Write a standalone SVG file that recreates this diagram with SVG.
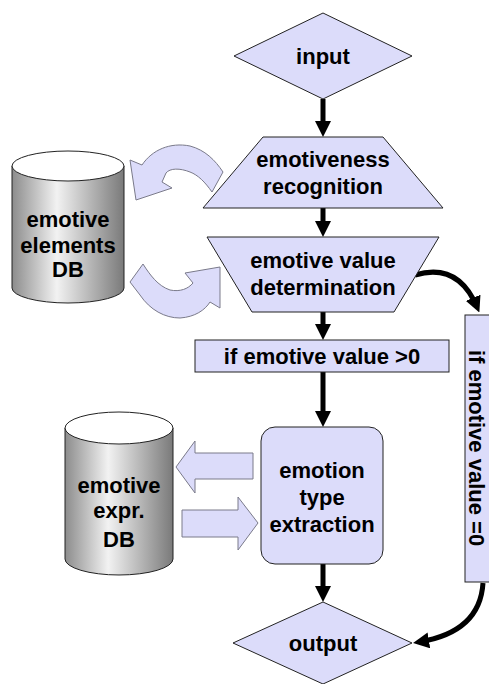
<svg xmlns="http://www.w3.org/2000/svg" width="489" height="684" viewBox="0 0 489 684">
<defs>
<linearGradient id="cyl" x1="0" y1="0" x2="1" y2="0">
<stop offset="0" stop-color="#8c8c8c"/>
<stop offset="0.4" stop-color="#f2f2f2"/>
<stop offset="1" stop-color="#7a7a7a"/>
</linearGradient>
<marker id="ah" markerUnits="userSpaceOnUse" markerWidth="16" markerHeight="16" refX="10" refY="8" orient="auto">
<path d="M0,0 L16,8 L0,16 z" fill="#000"/>
</marker>
<style>
.n{fill:#dcdcfa;stroke:#222;stroke-width:1}
.b{fill:#dcdcfa;stroke:#7a7a8a;stroke-width:1}
.t{font-family:"Liberation Sans",Arial,sans-serif;font-weight:bold;font-size:22px;fill:#000;text-anchor:middle}
.c{stroke:#000;stroke-width:5;fill:none;marker-end:url(#ah)}
.cy{fill:url(#cyl);stroke:#222;stroke-width:1}
.cyt{fill:#fff;stroke:#222;stroke-width:1}
</style>
</defs>
<rect width="489" height="684" fill="#fff"/>

<g id="connectors">
<line class="c" x1="323" y1="99" x2="323" y2="131"/>
<line class="c" x1="323" y1="208" x2="323" y2="231"/>
<line class="c" x1="323" y1="312" x2="323" y2="334"/>
<line class="c" x1="323" y1="372" x2="323" y2="421"/>
<line class="c" x1="323" y1="564" x2="323" y2="596"/>
<path class="c" d="M415,275 Q458,262 477,307"/>
<path class="c" d="M483,583 Q480,632 419,642"/>
</g>

<g id="block-arrows">
<path class="b" d="M130,160 L142,165 C152,150 170,142 190,146 C205,150 215,160 223,172 L212,192 C205,182 198,175 190,172 C180,168 170,168 166,173 L162,182 L172,188 L136,200 Z"/>
<path class="b" d="M130,282 L143,264 C150,275 158,286 170,290 C180,292 188,289 193,283 L185,273 L220,267 L220,308 L210,302 C205,310 195,317 180,318 C165,318 150,310 140,295 Z"/>
<path class="b" d="M253,453 L195,453 L195,441 L176,467 L195,493 L195,479 L253,479 Z"/>
<path class="b" d="M182,510 L238,510 L238,497 L258,523 L238,550 L238,537 L182,537 Z"/>
</g>

<g id="input">
<polygon class="n" points="323,13 412,56 323,99 234,56"/>
<text class="t" x="323" y="64">input</text>
</g>

<g id="emotiveness-recognition">
<polygon class="n" points="263,137 383,137 443,208 203,208"/>
<text class="t" x="323" y="167">emotiveness</text>
<text class="t" x="323" y="194">recognition</text>
</g>

<g id="emotive-value-determination">
<polygon class="n" points="207,237 439,237 394,312 252,312"/>
<text class="t" x="323" y="268">emotive value</text>
<text class="t" x="323" y="295">determination</text>
</g>

<g id="if-positive">
<rect class="n" x="195" y="340" width="254" height="32"/>
<text class="t" x="322" y="364">if emotive value &gt;0</text>
</g>

<g id="if-zero">
<rect class="n" x="465" y="315" width="30" height="267"/>
<text class="t" transform="translate(469,448) rotate(90)" x="0" y="0">if emotive value =0</text>
</g>

<g id="emotion-type-extraction">
<rect class="n" x="261" y="427" width="122" height="137" rx="14" ry="14"/>
<text class="t" x="322" y="478">emotion</text>
<text class="t" x="322" y="505">type</text>
<text class="t" x="322" y="532">extraction</text>
</g>

<g id="output">
<polygon class="n" points="323,602 412,643 323,684 233,643"/>
<text class="t" x="323" y="651">output</text>
</g>

<g id="emotive-elements-db">
<path class="cy" d="M12,166 L12,288 A56,15 0 0 0 124,288 L124,166 Z"/>
<ellipse class="cyt" cx="68" cy="166" rx="56" ry="15"/>
<text class="t" x="68" y="227">emotive</text>
<text class="t" x="68" y="253">elements</text>
<text class="t" x="68" y="277">DB</text>
</g>

<g id="emotive-expr-db">
<path class="cy" d="M65,428 L65,559 A54,16 0 0 0 173,559 L173,428 Z"/>
<ellipse class="cyt" cx="119" cy="428" rx="54" ry="16"/>
<text class="t" x="119" y="493">emotive</text>
<text class="t" x="119" y="518">expr.</text>
<text class="t" x="119" y="547">DB</text>
</g>
</svg>
